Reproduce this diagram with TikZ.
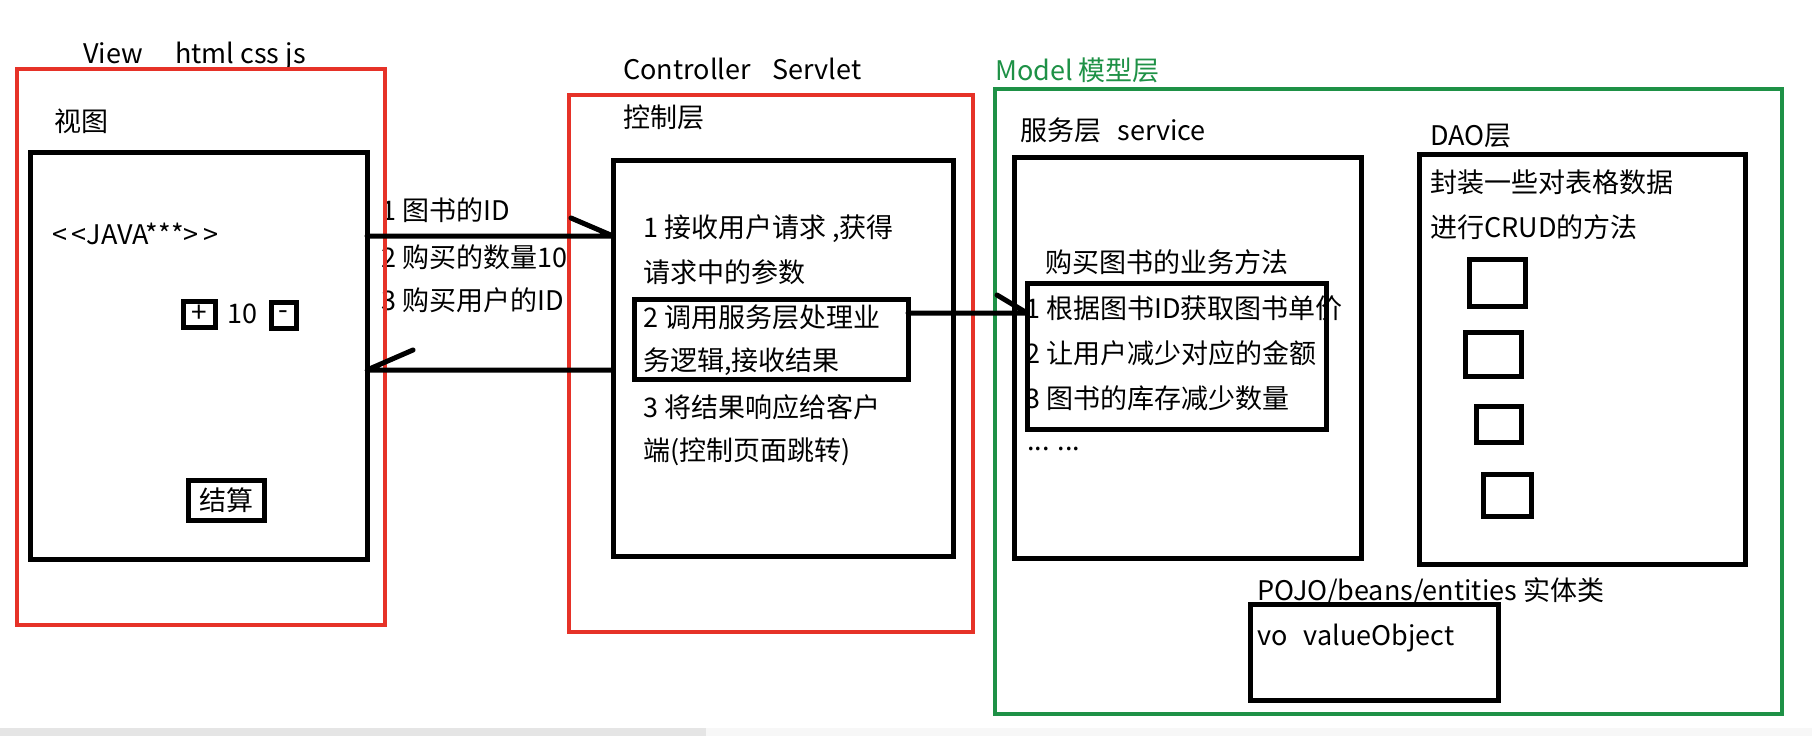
\documentclass[tikz,border=0pt]{standalone}
\usepackage{fontspec}
\setmainfont{Noto Sans CJK SC}
\definecolor{viewred}{RGB}{230,50,40}
\definecolor{modelgreen}{RGB}{30,145,70}
\tikzset{
  box/.style={draw, line width=5pt, inner sep=0pt, outer sep=0pt, anchor=north west},
  redbox/.style={box, draw=viewred, line width=4pt},
  greenbox/.style={box, draw=modelgreen, line width=4pt},
  lbl/.style={inner sep=0pt, anchor=west, text height=0.88em, text depth=0.12em,
              yshift=-7pt, font=\fontsize{27}{31}\selectfont},
  link/.style={line width=5pt, line cap=round, line join=round},
}
\begin{document}
\begin{tikzpicture}[x=1pt, y=-1pt]
    \fill[white] (0,0) rectangle (1812,736);
    \fill[gray!20] (0,728) rectangle (706,736);
    \fill[gray!6] (706,728) rectangle (1812,736);

    \node[lbl] (viewtitle) at (83,53) {View\hspace{1.2em}html css js};
    \node[lbl] (viewname) at (54,121) {视图};
    \node[lbl] (java) at (52,234) {<\,<JAVA***>\,>};
    \node[lbl] (count) at (227,313) {10};

    \node[lbl] (req1) at (381,210) {1 图书的ID};
    \node[lbl] (req2) at (381,257) {2 购买的数量10};
    \node[lbl] (req3) at (381,300) {3 购买用户的ID};

    \node[lbl] (ctrltitle) at (623,69) {Controller\hspace{0.8em}Servlet};
    \node[lbl] (ctrlname) at (623,117) {控制层};
    \node[lbl] (step1a) at (643,227) {1 接收用户请求 ,获得};
    \node[lbl] (step1b) at (643,272) {请求中的参数};
    \node[lbl] (step2a) at (643,317) {2 调用服务层处理业};
    \node[lbl] (step2b) at (643,360) {务逻辑,接收结果};
    \node[lbl] (step3a) at (643,407) {3 将结果响应给客户};
    \node[lbl] (step3b) at (643,450) {端(控制页面跳转)};

    \node[lbl, text=modelgreen] (modeltitle) at (995,70) {Model 模型层};
    \node[lbl] (svcname) at (1020,130) {服务层\hspace{0.6em}service};
    \node[lbl] (buyname) at (1045,262) {购买图书的业务方法};
    \node[lbl] (buy1) at (1025,308) {1 根据图书ID获取图书单价};
    \node[lbl] (buy2) at (1025,353) {2 让用户减少对应的金额};
    \node[lbl] (buy3) at (1025,398) {3 图书的库存减少数量};
    \node[lbl] (more) at (1027,440) {... ...};

    \node[lbl] (daoname) at (1430,135) {DAO层};
    \node[lbl] (dao1) at (1430,182) {封装一些对表格数据};
    \node[lbl] (dao2) at (1430,227) {进行CRUD的方法};
    \node[lbl] (pojoname) at (1257,590) {POJO/beans/entities 实体类};
    \node[lbl] (vo) at (1257,635) {vo\hspace{0.6em}valueObject};

    \node[redbox, minimum width=368pt, minimum height=556pt] (viewred) at (17,69) {};
    \node[box, minimum width=337pt, minimum height=407pt] (viewbox) at (30,152) {};
    \node[box, minimum width=32pt, minimum height=26pt, font=\fontsize{28}{30}\selectfont] (plusbox) at (183,301) {+};
    \node[box, minimum width=25pt, minimum height=26pt, font=\fontsize{28}{30}\selectfont] (minusbox) at (271,302) {-};
    \node[box, minimum width=76pt, minimum height=40pt, font=\fontsize{27}{30}\selectfont] (paybox) at (188,480) {结算};

    \node[redbox, minimum width=404pt, minimum height=537pt] (ctrlred) at (569,95) {};
    \node[box, minimum width=340pt, minimum height=396pt] (ctrlbox) at (613,160) {};
    \node[box, minimum width=274pt, minimum height=80pt] (callbox) at (634,299) {};

    \node[greenbox, minimum width=787pt, minimum height=625pt] (modelbox) at (995,89) {};
    \node[box, minimum width=347pt, minimum height=401pt] (svcbox) at (1014,157) {};
    \node[box, minimum width=299pt, minimum height=146pt] (buybox) at (1027,283) {};
    \node[box, minimum width=326pt, minimum height=410pt] (daobox) at (1419,154) {};
    \node[box, minimum width=56pt, minimum height=47pt] (tbl1) at (1469,259) {};
    \node[box, minimum width=56pt, minimum height=44pt] (tbl2) at (1465,332) {};
    \node[box, minimum width=45pt, minimum height=36pt] (tbl3) at (1476,406) {};
    \node[box, minimum width=48pt, minimum height=42pt] (tbl4) at (1483,474) {};
    \node[box, minimum width=248pt, minimum height=96pt] (vobox) at (1250,604) {};

    \draw[link] (viewbox.east |- 0,236) -- (ctrlbox.west |- 0,236) -- ++(-42,-18);
    \draw[link] (ctrlbox.west |- 0,370) -- (viewbox.east |- 0,370) -- ++(46,-20);
    \draw[link] (callbox.east |- 0,313) -- (buybox.west |- 0,313) -- ++(-30,-18);
\end{tikzpicture}
\end{document}
